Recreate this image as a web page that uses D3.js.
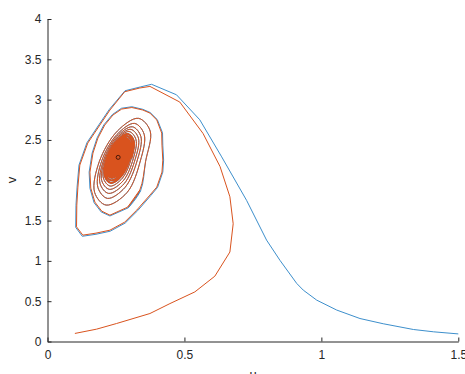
<!DOCTYPE html>
<html>
<head>
<meta charset="utf-8">
<script src="https://cdn.jsdelivr.net/npm/d3@7"></script>
<style>
  body { margin: 0; background: #fff; }
</style>
</head>
<body>
<div id="viz"></div>
<script>
// axis ticks
const xTicks = [0, 0.5, 1, 1.5];
const xTickLabels = ["0", "0.5", "1", "1.5"];
const yTicks = [0, 0.5, 1, 1.5, 2, 2.5, 3, 3.5, 4];
const yTickLabels = ["0", "0.5", "1", "1.5", "2", "2.5", "3", "3.5", "4"];

// trajectory from (1.5, 0.1): [u, v]
const blueApproach = [
    [1.50, 0.094], [1.41, 0.12], [1.336, 0.149], [1.226, 0.22], [1.141, 0.285], [1.056, 0.39],
    [0.983, 0.513], [0.934, 0.637], [0.91, 0.72], [0.849, 1.006], [0.80, 1.257], [0.727, 1.75],
    [0.636, 2.29], [0.556, 2.75], [0.471, 3.06], [0.38, 3.19]
];
const blueLoop = [
    [0.340, 3.158], [0.283, 3.110], [0.226, 2.880], [0.188, 2.690], [0.144, 2.465], [0.115, 2.188],
    [0.108, 1.915], [0.104, 1.690], [0.103, 1.415], [0.127, 1.305], [0.177, 1.330], [0.229, 1.368],
    [0.284, 1.470], [0.329, 1.622], [0.377, 1.810], [0.402, 1.912], [0.421, 2.101], [0.424, 2.250],
    [0.421, 2.436], [0.420, 2.588], [0.401, 2.752], [0.375, 2.840], [0.348, 2.880], [0.308, 2.912],
    [0.270, 2.893], [0.237, 2.815], [0.206, 2.688], [0.181, 2.525], [0.163, 2.337], [0.152, 2.101],
    [0.155, 1.900], [0.170, 1.722], [0.196, 1.607], [0.228, 1.557], [0.295, 1.658], [0.340, 1.872]
];

// trajectory from (0.1, 0.1)
const orangeApproach = [
    [0.10, 0.10], [0.179, 0.153], [0.252, 0.223], [0.374, 0.347], [0.447, 0.47], [0.538, 0.615],
    [0.611, 0.81], [0.666, 1.11], [0.678, 1.46], [0.666, 1.795], [0.63, 2.17], [0.568, 2.58],
    [0.483, 2.97], [0.374, 3.164]
];
const orangeLoop = [
    [0.337, 3.144], [0.282, 3.098], [0.228, 2.871], [0.191, 2.684], [0.147, 2.461], [0.118, 2.188],
    [0.111, 1.915], [0.107, 1.692], [0.106, 1.422], [0.129, 1.319], [0.177, 1.344], [0.228, 1.381],
    [0.282, 1.481], [0.326, 1.630], [0.374, 1.816], [0.399, 1.915], [0.418, 2.101], [0.421, 2.250],
    [0.418, 2.436], [0.417, 2.585], [0.399, 2.747], [0.374, 2.833], [0.348, 2.871], [0.308, 2.902],
    [0.271, 2.883], [0.239, 2.809], [0.209, 2.684], [0.184, 2.523], [0.166, 2.337], [0.155, 2.101],
    [0.158, 1.903], [0.173, 1.729], [0.198, 1.617], [0.228, 1.567], [0.293, 1.667], [0.337, 1.878]
];

// inner rings where both trajectories lie on top of each other
const spiral = [
    [0.358, 2.230], [0.375, 2.610], [0.332, 2.768], [0.255, 2.610], [0.189, 2.230], [0.172, 1.850], [0.214, 1.692], [0.291, 1.850],
    [0.339, 2.240], [0.353, 2.569], [0.318, 2.705], [0.254, 2.569], [0.198, 2.240], [0.184, 1.911], [0.219, 1.775], [0.283, 1.911],
    [0.328, 2.250], [0.341, 2.542], [0.310, 2.663], [0.253, 2.542], [0.205, 2.250], [0.192, 1.958], [0.223, 1.837], [0.280, 1.958],
    [0.320, 2.259], [0.332, 2.522], [0.304, 2.631], [0.253, 2.522], [0.210, 2.259], [0.198, 1.996], [0.226, 1.887], [0.277, 1.996],
    [0.313, 2.266], [0.323, 2.505], [0.298, 2.604], [0.253, 2.505], [0.214, 2.266], [0.204, 2.027], [0.229, 1.928], [0.274, 2.027]
];

// dense core of the spiral
const spiralCore = [
    [0.306, 2.271], [0.315, 2.486], [0.293, 2.575], [0.253, 2.486], [0.218, 2.271], [0.209, 2.056], [0.231, 1.967], [0.271, 2.056],
    [0.301, 2.275], [0.309, 2.470], [0.289, 2.550], [0.252, 2.470], [0.220, 2.275], [0.212, 2.080], [0.232, 1.999], [0.269, 2.080],
    [0.296, 2.279], [0.303, 2.454], [0.285, 2.527], [0.252, 2.454], [0.223, 2.279], [0.216, 2.104], [0.234, 2.031], [0.267, 2.104],
    [0.291, 2.282], [0.298, 2.442], [0.281, 2.508], [0.251, 2.442], [0.225, 2.282], [0.219, 2.122], [0.235, 2.056], [0.265, 2.122],
    [0.288, 2.282], [0.294, 2.427], [0.279, 2.487], [0.252, 2.427], [0.228, 2.282], [0.222, 2.137], [0.237, 2.077], [0.265, 2.137],
    [0.286, 2.282], [0.291, 2.414], [0.277, 2.468], [0.253, 2.414], [0.231, 2.282], [0.226, 2.150], [0.239, 2.096], [0.264, 2.150],
    [0.289, 2.367], [0.276, 2.452], [0.246, 2.367], [0.228, 2.197], [0.241, 2.112], [0.271, 2.197],
    [0.286, 2.359], [0.274, 2.436], [0.247, 2.359], [0.231, 2.205], [0.243, 2.128], [0.270, 2.205],
    [0.283, 2.352], [0.273, 2.421], [0.248, 2.352], [0.234, 2.213], [0.244, 2.143], [0.269, 2.213],
    [0.281, 2.345], [0.271, 2.407], [0.249, 2.345], [0.236, 2.220], [0.246, 2.157], [0.268, 2.220],
    [0.278, 2.337], [0.270, 2.392], [0.250, 2.337], [0.239, 2.227], [0.247, 2.172], [0.267, 2.227],
    [0.275, 2.331], [0.268, 2.379], [0.251, 2.331], [0.241, 2.234], [0.248, 2.185], [0.266, 2.234],
    [0.273, 2.323], [0.267, 2.364], [0.252, 2.323], [0.244, 2.241], [0.250, 2.200], [0.264, 2.241],
    [0.270, 2.316], [0.265, 2.349], [0.253, 2.316], [0.246, 2.249], [0.251, 2.215], [0.263, 2.249],
    [0.268, 2.309], [0.264, 2.335], [0.254, 2.309], [0.249, 2.256], [0.253, 2.229], [0.262, 2.256],
    [0.265, 2.301], [0.262, 2.321], [0.255, 2.301], [0.251, 2.263], [0.254, 2.244], [0.261, 2.263],
    [0.263, 2.295], [0.261, 2.307], [0.256, 2.295], [0.254, 2.270], [0.256, 2.257], [0.260, 2.270],
    [0.258, 2.282]
];

// equilibrium point
const eqU = [0.258];
const eqV = [2.284];

document.addEventListener("DOMContentLoaded", () => {

    const width = 465;
    const height = 374;

    const svg = d3.select("#viz")
        .append("svg")
        .attr("width", width)
        .attr("height", height)
        .style("display", "block")
        .style("background-color", "white");

    const x = d3.scaleLinear().domain([0, 1.5]).range([47.5, 458.3]);
    const y = d3.scaleLinear().domain([0, 4]).range([341.5, 19]);

    const line = d3.line()
        .x(d => x(d[0]))
        .y(d => y(d[1]));

    // rings are sampled coarsely, so let the curve round them off
    const ringLine = d3.line()
        .x(d => x(d[0]))
        .y(d => y(d[1]))
        .curve(d3.curveCatmullRom.alpha(0.5));

    // blue first, orange drawn over it
    const series = [
        { color: "#3d8fcc", head: blueApproach.concat(blueLoop) },
        { color: "#d9531e", head: orangeApproach.concat(orangeLoop) }
    ];

    const traj = svg.selectAll("g.traj")
        .data(series)
        .enter()
        .append("g")
        .attr("class", "traj");

    traj.append("path")
        .attr("d", d => line(d.head))
        .attr("fill", "none")
        .attr("stroke", d => d.color)
        .attr("stroke-width", 1)
        .attr("stroke-linejoin", "round");

    traj.append("path")
        .attr("d", d => ringLine(d.head.slice(-2).concat(spiral, spiralCore)))
        .attr("fill", "none")
        .attr("stroke", d => d.color)
        .attr("stroke-width", 1)
        .attr("stroke-linejoin", "round");

    // the core rings are packed so tight they read as a solid patch
    traj.append("path")
        .attr("d", ringLine(spiralCore))
        .attr("fill", "none")
        .attr("stroke", d => d.color)
        .attr("stroke-width", 1.9)
        .attr("stroke-linejoin", "round");

    svg.selectAll("circle.eq")
        .data(eqU)
        .enter()
        .append("circle")
        .attr("class", "eq")
        .attr("cx", d => x(d))
        .attr("cy", (d, i) => y(eqV[i]))
        .attr("r", 2)
        .attr("fill", "none")
        .attr("stroke", "#4a1808")
        .attr("stroke-width", 1);

    // axes (MATLAB style, ticks pointing in)
    const font = "'Liberation Sans', Arial, Helvetica, sans-serif";

    const xAxis = svg.append("g")
        .attr("transform", `translate(0,${y(0)})`)
        .call(d3.axisBottom(x)
            .tickValues(xTicks)
            .tickFormat((d, i) => xTickLabels[i])
            .tickSize(-4)
            .tickSizeOuter(0)
            .tickPadding(9));

    const yAxis = svg.append("g")
        .attr("transform", `translate(${x(0)},0)`)
        .call(d3.axisLeft(y)
            .tickValues(yTicks)
            .tickFormat((d, i) => yTickLabels[i])
            .tickSize(-4)
            .tickSizeOuter(0)
            .tickPadding(6));

    [xAxis, yAxis].forEach(g => {
        g.select(".domain").attr("stroke", "#262626").attr("stroke-width", 1);
        g.selectAll(".tick line").attr("stroke", "#262626");
        g.selectAll(".tick text")
            .attr("fill", "#262626")
            .style("font-family", font)
            .style("font-size", "12px");
    });

    svg.append("text")
        .attr("transform", "translate(15.5,180) rotate(-90)")
        .attr("text-anchor", "middle")
        .attr("fill", "#262626")
        .style("font-family", font)
        .style("font-size", "13px")
        .text("v");

    // x label sits mostly below the frame, as in the original
    svg.append("text")
        .attr("x", 253)
        .attr("y", 378.5)
        .attr("text-anchor", "middle")
        .attr("fill", "#262626")
        .style("font-family", font)
        .style("font-size", "13px")
        .text("u");
});
</script>
</body>
</html>
